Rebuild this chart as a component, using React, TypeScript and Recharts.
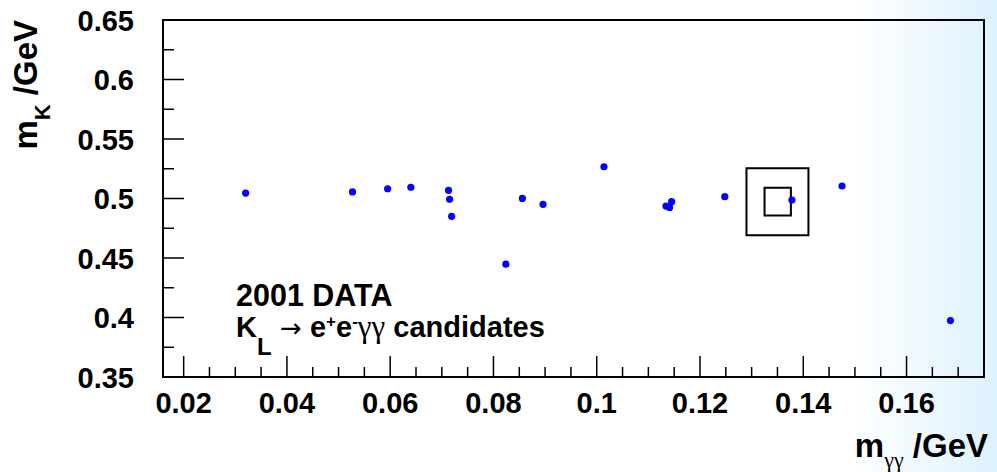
import React from 'react';
import { ScatterChart, Scatter, XAxis, YAxis, ReferenceArea, Label } from 'recharts';

// m_gammagamma (GeV) of each candidate
const massGG = [0.032, 0.0527, 0.0595, 0.064, 0.0713, 0.0715, 0.0719, 0.0824, 0.0856, 0.0896, 0.1014, 0.1134, 0.1141, 0.1145, 0.1248, 0.1378, 0.1475, 0.1685];
// m_K (GeV) of each candidate
const massK = [0.5046, 0.5055, 0.5082, 0.5094, 0.5069, 0.4993, 0.485, 0.4448, 0.5001, 0.4951, 0.5267, 0.4936, 0.4925, 0.4973, 0.5015, 0.4987, 0.5105, 0.3974];

const xMajor = [0.02, 0.04, 0.06, 0.08, 0.1, 0.12, 0.14, 0.16];
const xAllTicks = [0.02, 0.025, 0.03, 0.035, 0.04, 0.045, 0.05, 0.055, 0.06, 0.065, 0.07, 0.075, 0.08, 0.085, 0.09, 0.095, 0.1, 0.105, 0.11, 0.115, 0.12, 0.125, 0.13, 0.135, 0.14, 0.145, 0.15, 0.155, 0.16, 0.165, 0.17];
const yMajor = [0.35, 0.4, 0.45, 0.5, 0.55, 0.6, 0.65];
const yAllTicks = [0.35, 0.375, 0.4, 0.425, 0.45, 0.475, 0.5, 0.525, 0.55, 0.575, 0.6, 0.625, 0.65];

const xDomain = [0.016, 0.175];
const yDomain = [0.35, 0.65];

// signal boxes (outer and inner)
const outerBox = { x1: 0.129, x2: 0.141, y1: 0.4692, y2: 0.5254 };
const innerBox = { x1: 0.1325, x2: 0.1376, y1: 0.4858, y2: 0.5091 };

const data = massGG.map((x, i) => ({ x, y: massK[i] }));

const FONT = '"Liberation Sans", Arial, Helvetica, sans-serif';
const GREEK = '"Liberation Serif", "DejaVu Serif", serif';

const isMajor = (list: number[], v: number) => list.some((m) => Math.abs(m - v) < 1e-9);

const XTick = (props: any) => {
  const { x, y, payload } = props;
  const v = payload.value as number;
  const major = isMajor(xMajor, v);
  return (
    <g>
      <line x1={x} y1={y} x2={x} y2={y - (major ? 21 : 10)} stroke="#000" strokeWidth={1.5} />
      {major && (
        <text x={x} y={y + 36} textAnchor="middle" fontFamily={FONT} fontWeight="bold" fontSize={29} fill="#000">
          {String(v)}
        </text>
      )}
    </g>
  );
};

const YTick = (props: any) => {
  const { x, y, payload } = props;
  const v = payload.value as number;
  const major = isMajor(yMajor, v);
  return (
    <g>
      <line x1={x} y1={y} x2={x + (major ? 21 : 11)} y2={y} stroke="#000" strokeWidth={1.5} />
      {major && (
        <text x={x - 29} y={y + 10.5} textAnchor="end" fontFamily={FONT} fontWeight="bold" fontSize={29} fill="#000">
          {String(v)}
        </text>
      )}
    </g>
  );
};

const Dot = (props: any) => {
  const { cx, cy } = props;
  return <circle cx={cx} cy={cy} r={3.6} fill="#0000ff" />;
};

const XTitle = () => (
  <text x={988} y={457} textAnchor="end" fontFamily={FONT} fontWeight="bold" fontSize={33} fill="#000">
    m
    <tspan dy={10} fontSize={22} fontWeight="normal" fontFamily={GREEK}>γγ</tspan>
    <tspan dy={-10}> /GeV</tspan>
  </text>
);

const YTitle = () => (
  <text transform="translate(37,20) rotate(-90)" textAnchor="end" fontFamily={FONT} fontWeight="bold" fontSize={33} fill="#000">
    m
    <tspan dy={13} fontSize={22}>K</tspan>
    <tspan dy={-13}> /GeV</tspan>
  </text>
);

const Annotation = () => (
  <g fontFamily={FONT} fontWeight="bold" fill="#000">
    <text x={236} y={306} fontSize={30.5}>2001 DATA</text>
    <text x={236} y={337} fontSize={29}>
      K
      <tspan dy={18} fontSize={24}>L</tspan>
      <tspan dy={-18} fontWeight="normal" fontFamily="'DejaVu Sans', sans-serif" fontSize={26}> → </tspan>
      <tspan>e</tspan>
      <tspan dy={-10} fontSize={17}>+</tspan>
      <tspan dy={10}>e</tspan>
      <tspan dy={-10} fontSize={17}>-</tspan>
      <tspan dy={10} fontWeight="normal" fontFamily={GREEK} fontSize={31}>γγ</tspan>
      <tspan> candidates</tspan>
    </text>
  </g>
);

export default function App() {
  return (
    <div
      style={{
        position: 'absolute',
        left: 0,
        top: 0,
        width: 997,
        height: 472,
        background: 'linear-gradient(to right, #ffffff 0px, #ffffff 855px, #def2fd 990px, #def2fd 997px)',
      }}
    >
      <ScatterChart width={997} height={472} margin={{ top: 20, right: 13, left: 0, bottom: 0 }}>
        <XAxis
          type="number"
          dataKey="x"
          domain={xDomain}
          allowDataOverflow
          ticks={xAllTicks}
          interval={0}
          tick={<XTick />}
          tickLine={false}
          tickSize={0}
          tickMargin={0}
          height={95}
          axisLine={{ stroke: '#000', strokeWidth: 2 }}
        >
          <Label content={<XTitle />} />
        </XAxis>
        <YAxis
          type="number"
          dataKey="y"
          domain={yDomain}
          allowDataOverflow
          ticks={yAllTicks}
          interval={0}
          tick={<YTick />}
          tickLine={false}
          tickSize={0}
          tickMargin={0}
          width={163}
          axisLine={{ stroke: '#000', strokeWidth: 2 }}
        >
          <Label content={<YTitle />} />
        </YAxis>
        <ReferenceArea x1={xDomain[0]} x2={xDomain[1]} y1={yDomain[0]} y2={yDomain[1]} fill="none" stroke="#000" strokeWidth={2} ifOverflow="visible">
          <Label content={<Annotation />} />
        </ReferenceArea>
        <ReferenceArea x1={outerBox.x1} x2={outerBox.x2} y1={outerBox.y1} y2={outerBox.y2} fill="none" stroke="#000" strokeWidth={2} />
        <ReferenceArea x1={innerBox.x1} x2={innerBox.x2} y1={innerBox.y1} y2={innerBox.y2} fill="none" stroke="#000" strokeWidth={2} />
        <Scatter data={data} shape={<Dot />} isAnimationActive={false} />
      </ScatterChart>
    </div>
  );
}
